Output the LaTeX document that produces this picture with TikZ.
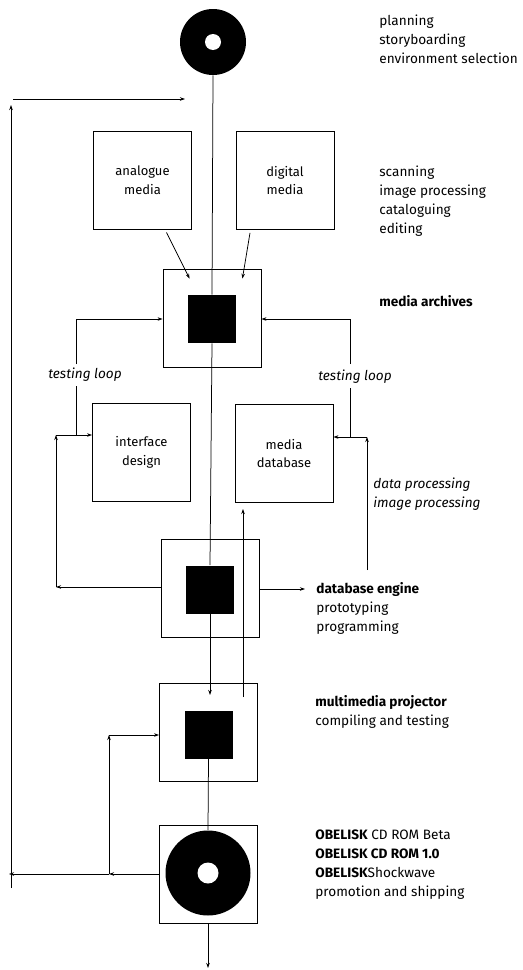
\documentclass[tikz,border=0pt]{standalone}
\usepackage{fontspec}
\setmainfont{Fira Sans}
\usetikzlibrary{arrows.meta}
\newcommand\lblfont{\fontsize{13.6bp}{19bp}\selectfont}
\newcommand\boxfont{\fontsize{13bp}{18.5bp}\selectfont}
\begin{document}
\begin{tikzpicture}[x=1bp,y=-1bp, line width=0.75bp,
 arr/.style={-{Stealth[length=5bp,width=3.5bp]}},
 box/.style={draw, line width=0.85bp, minimum width=98bp, minimum height=98bp, inner sep=0pt, align=center, font=\boxfont},
 blk/.style={fill=black, minimum size=48bp, inner sep=0pt},
 lab/.style={anchor=west, align=left, font=\lblfont, inner sep=0pt},
 hole/.style={circle, fill=white, inner sep=0pt}
]
\useasboundingbox (0,0) rectangle (523,970);

% top disc
\node (disc1) [circle, fill=black, minimum size=66bp, inner sep=0pt] at (213,42) {};
\node (hole1) [hole, minimum size=16bp] at (213,42) {};

% boxes
\node (ana) [box] at (142.5,180) {analogue\\media};
\node (dig) [box] at (285,180.5) {digital\\media};
\node (arch) [box] at (212,318) {};
\node (archin) [blk] at (212,319) {};
\node (intf) [box] at (141.5,452.5) {interface\\design};
\node (mdb) [box] at (284,453.5) {media\\database};
\node (deng) [box] at (210,588) {};
\node (dengin) [blk] at (210,589.5) {};
\node (proj) [box] at (208.5,732.5) {};
\node (projin) [blk] at (208.5,734.5) {};
\node (obel) [box] at (208,874) {};
\node (disc2) [circle, fill=black, minimum size=85bp, inner sep=0pt] at (208,873) {};
\node (hole2) [hole, minimum size=21bp] at (208,873) {};

% coordinates
\coordinate (projarr) at (210,695);
\coordinate (bottom) at (208,968);
\coordinate (tl1) at (76,319);
\coordinate (tl2) at (76,364);
\coordinate (tl3) at (76,386);
\coordinate (tl4) at (76,435);
\coordinate (ll1) at (56,587);
\coordinate (ll2) at (56,435);
\coordinate (tr1) at (350,319);
\coordinate (tr2) at (350,364);
\coordinate (tr3) at (350,388);
\coordinate (tr4) at (350,437);
\coordinate (rr1) at (367,570);
\coordinate (rr2) at (367,437);
\coordinate (dengout) at (305,589);
\coordinate (u1) at (243,697);
\coordinate (u2) at (243,509);
\coordinate (p1) at (109,874);
\coordinate (p2) at (109,735);
\coordinate (b1) at (9,874);
\coordinate (L1) at (11,888);
\coordinate (L2) at (11,105);
\coordinate (L3) at (13,99);
\coordinate (L4) at (185,99);

% main column
\draw (disc1.south) -- (archin.north);
\draw (archin.south) -- (dengin.north);
\draw[arr] (dengin.south) -- (projarr);
\draw (projin.south) -- (disc2.north);
\draw[arr] (obel.south) -- (bottom);

% media into archive
\draw[arr] ([xshift=24bp,yshift=-3bp]ana.south) -- ([xshift=27bp,yshift=-10bp]arch.north west);
\draw[arr] ([xshift=-35bp,yshift=-3bp]dig.south) -- ([xshift=-19bp,yshift=-10bp]arch.north east);

% left testing loop
\draw[arr] (tl2) -- (tl1) -- (tl1 -| arch.west);
\node (tll) [lab, anchor=center, font=\lblfont\itshape] at (85,375) {testing loop};
\draw (tl3) -- (tl4);
\draw[arr] (deng.west |- ll1) -- (ll1);
\draw[arr] (ll1) -- (ll2);
\draw[arr] (ll2) -- (ll2 -| intf.west);

% right testing loop
\draw[arr] (tr2) -- (tr1) -- (tr1 -| arch.east);
\node (trl) [lab, anchor=center, font=\lblfont\itshape] at (355,377) {testing loop};
\draw (tr3) -- (tr4);
\draw[arr] (rr1) -- (rr2);
\draw[arr] (rr2) -- (rr2 -| mdb.east);

% database engine
\draw[arr] (deng.east |- dengout) -- (dengout);
\draw[arr] (u1) -- (u2);

% projector loop
\draw[arr] (p1) -- (p2);
\draw[arr] (p2) -- (p2 -| proj.west);
\draw[arr] (obel.west |- p1) -- (p1);
\draw[arr] (p1) -- (b1);

% big loop
\draw[arr] (L1) -- (L2);
\draw[arr] (L3) -- (L4);

% labels
\node (t1) [lab] at (379,39) {planning\\storyboarding\\environment selection};
\node (t2) [lab] at (379,201) {scanning\\image processing\\cataloguing\\editing};
\node (t3) [lab] at (379,301) {\bfseries media archives};
\node (t4) [lab, font=\lblfont\itshape] at (373,494) {data processing\\image processing};
\node (t5) [lab] at (316,608) {\bfseries database engine\\prototyping\\programming};
\node (t6) [lab] at (315,712) {\bfseries multimedia projector\\compiling and testing};
\node (t7) [lab] at (315,865) {{\bfseries OBELISK} CD ROM Beta\\\bfseries OBELISK CD ROM 1.0\\{\bfseries OBELISK}Shockwave\\promotion and shipping};
\end{tikzpicture}
\end{document}
